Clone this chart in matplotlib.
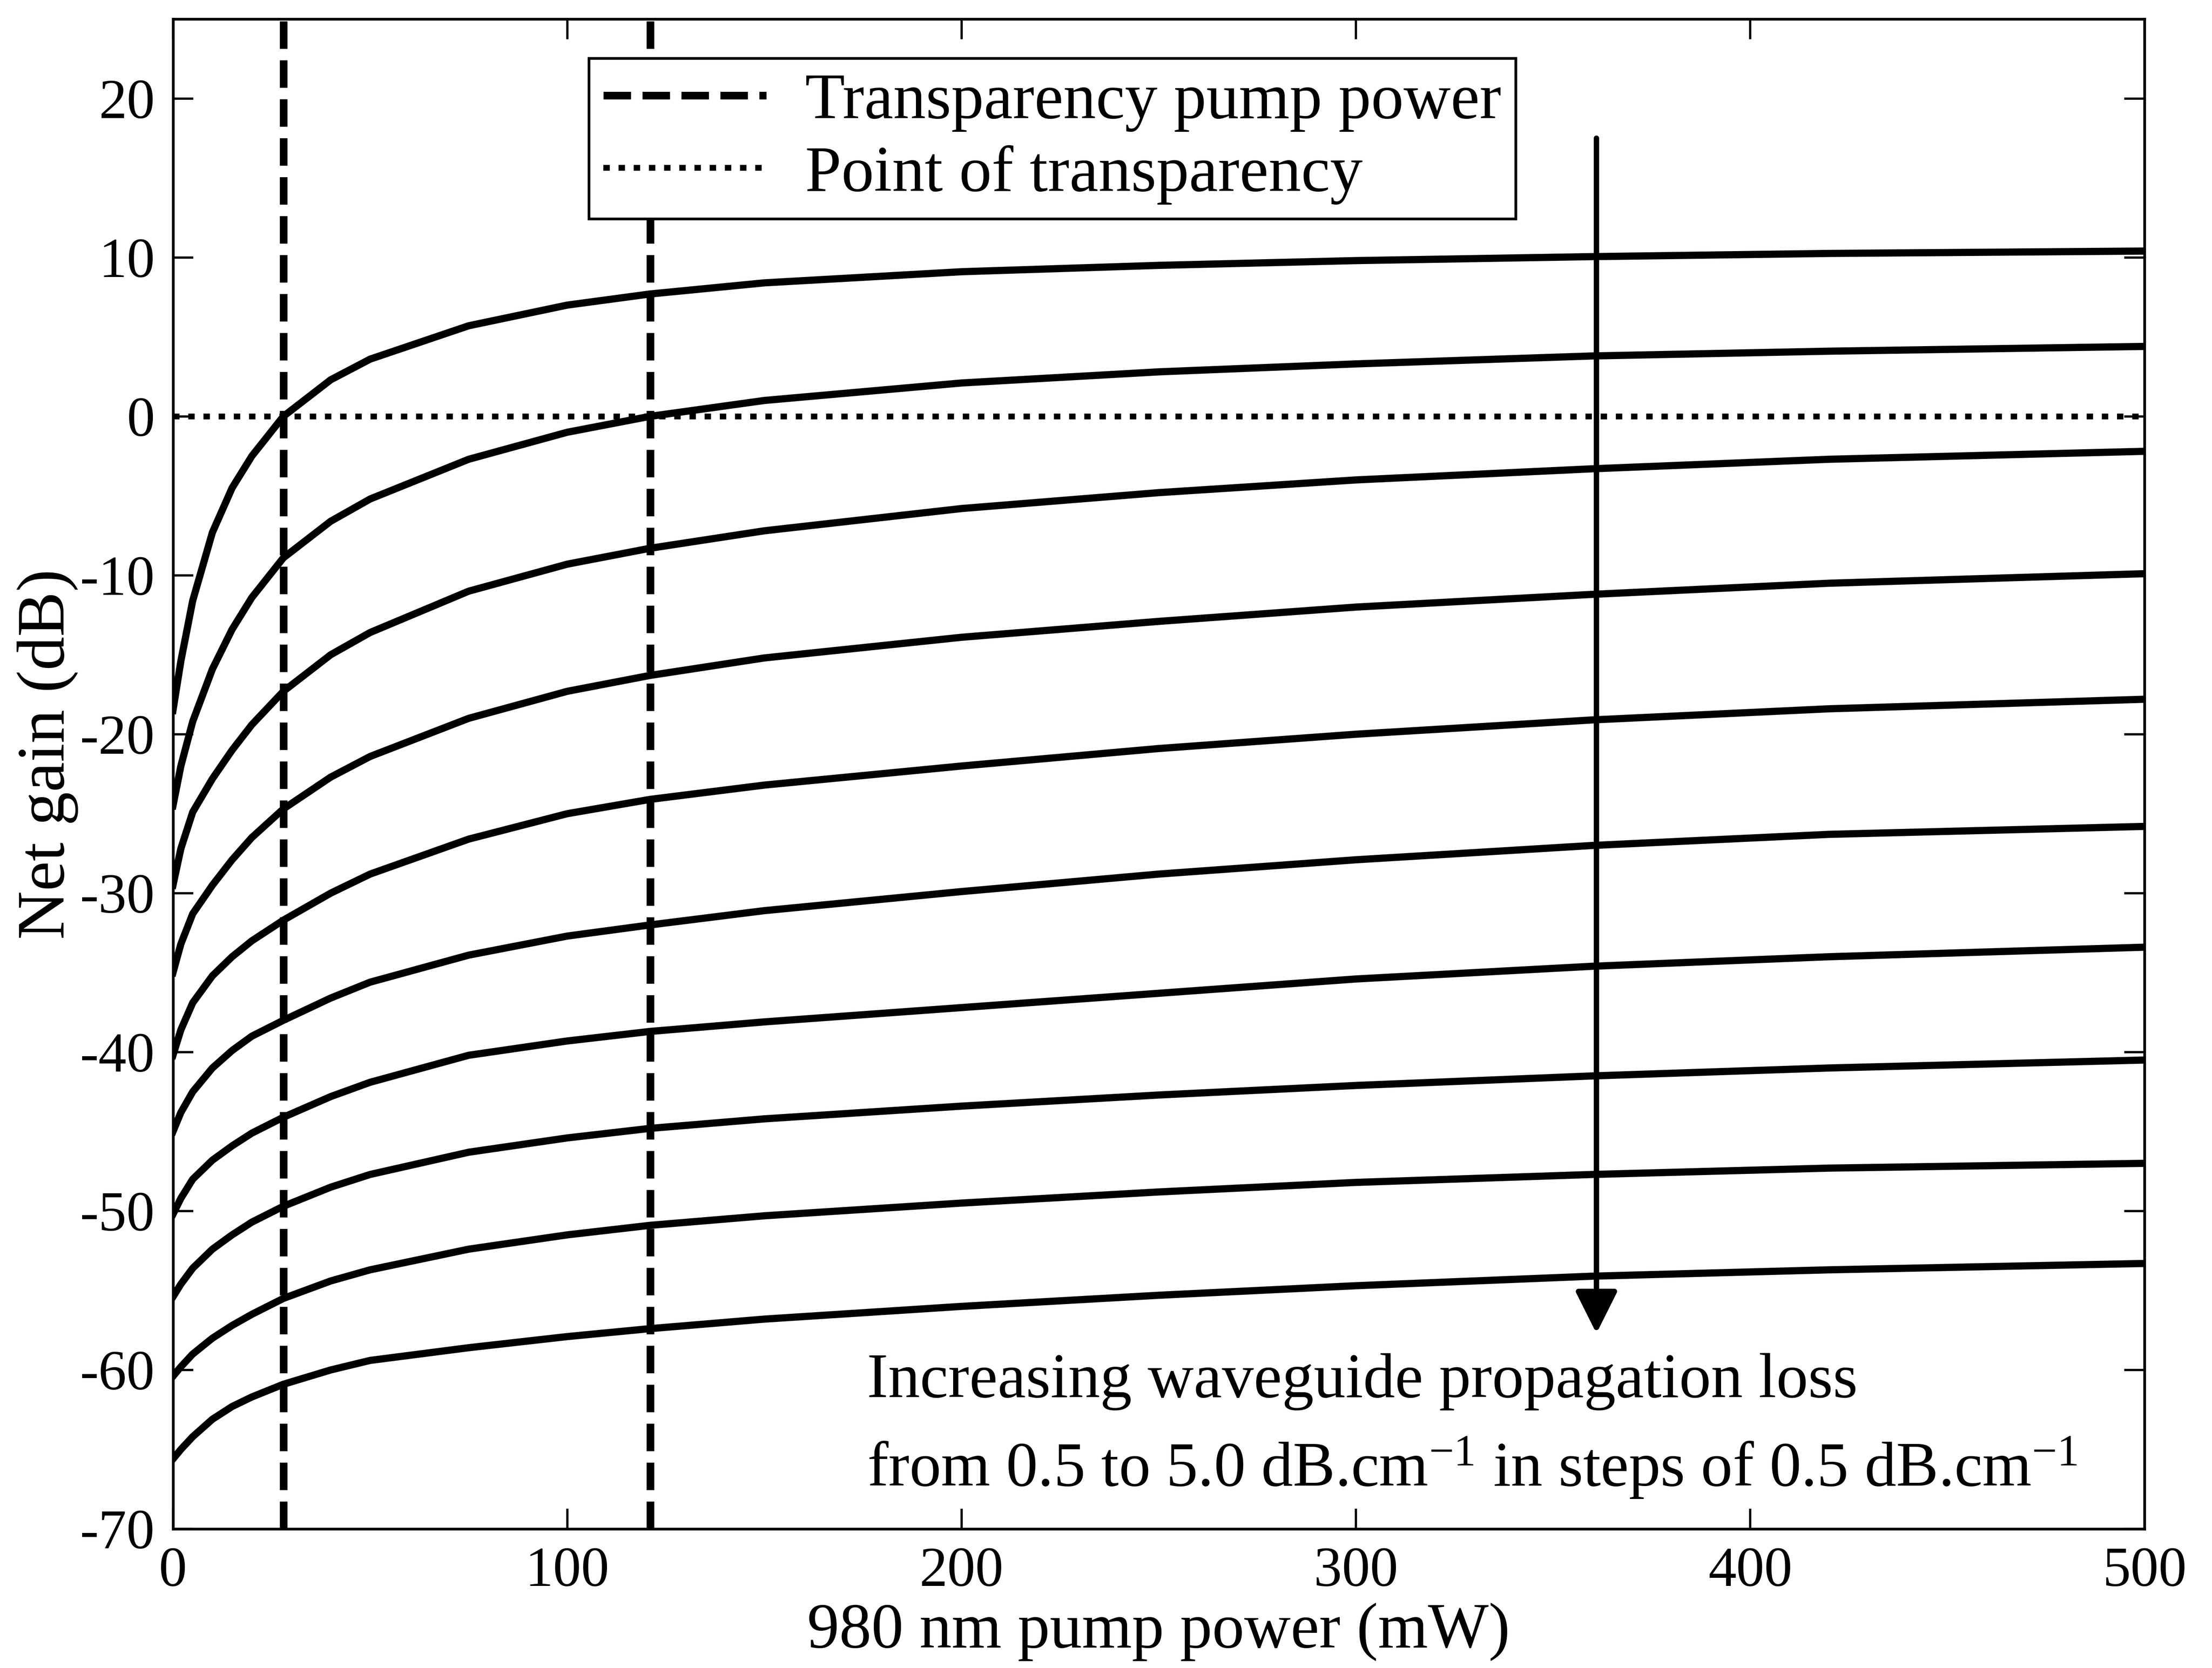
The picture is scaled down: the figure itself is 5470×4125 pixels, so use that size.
import matplotlib

matplotlib.use("Agg")
import matplotlib.pyplot as plt
import numpy as np

plt.rcParams["font.family"] = ["Liberation Serif", "DejaVu Serif"]
plt.rcParams["mathtext.fontset"] = "custom"
plt.rcParams["mathtext.rm"] = "Liberation Serif"
plt.rcParams["mathtext.it"] = "Liberation Serif:italic"
plt.rcParams["axes.unicode_minus"] = False

# Pump power grid (mW) the gain curves were read on
pump_power = [0, 2, 5, 10, 15, 20, 28, 40, 50, 75, 100, 121, 150, 200, 250, 300, 360, 420, 500]

# Net gain (dB), one curve per propagation loss 0.5 ... 5.0 dB/cm
gain_05 = [-18.5, -15.4, -11.6, -7.3, -4.5, -2.5, 0.0, 2.3, 3.6, 5.7, 7.0, 7.7, 8.4, 9.1, 9.5, 9.8, 10.05, 10.25, 10.4]
gain_10 = [-24.5, -22.0, -19.2, -15.9, -13.4, -11.4, -8.9, -6.6, -5.2, -2.7, -1.0, 0.0, 1.0, 2.1, 2.8, 3.3, 3.8, 4.1, 4.4]
gain_15 = [-29.5, -27.2, -24.9, -22.8, -21.0, -19.4, -17.3, -15.0, -13.6, -11.0, -9.3, -8.3, -7.2, -5.8, -4.8, -4.0, -3.3, -2.7, -2.2]
gain_20 = [-35.0, -33.2, -31.3, -29.5, -27.9, -26.5, -24.7, -22.7, -21.4, -19.0, -17.3, -16.3, -15.2, -13.9, -12.9, -12.0, -11.2, -10.5, -9.9]
gain_25 = [-40.2, -38.6, -36.9, -35.2, -34.0, -33.0, -31.7, -30.0, -28.8, -26.6, -25.0, -24.1, -23.2, -22.0, -20.9, -20.0, -19.1, -18.4, -17.8]
gain_30 = [-45.0, -43.8, -42.5, -41.0, -39.9, -39.0, -38.0, -36.6, -35.6, -33.9, -32.7, -32.0, -31.1, -29.9, -28.8, -27.9, -27.0, -26.3, -25.8]
gain_35 = [-50.2, -49.2, -48.0, -46.8, -45.9, -45.1, -44.1, -42.8, -41.9, -40.2, -39.3, -38.7, -38.1, -37.2, -36.3, -35.4, -34.6, -34.0, -33.4]
gain_40 = [-55.4, -54.6, -53.6, -52.4, -51.5, -50.7, -49.7, -48.5, -47.7, -46.3, -45.4, -44.8, -44.2, -43.4, -42.7, -42.1, -41.5, -41.0, -40.5]
gain_45 = [-60.4, -59.8, -59.0, -58.0, -57.2, -56.5, -55.5, -54.4, -53.7, -52.4, -51.5, -50.9, -50.3, -49.5, -48.8, -48.2, -47.7, -47.3, -47.0]
gain_50 = [-65.6, -65.0, -64.2, -63.1, -62.3, -61.7, -60.9, -60.0, -59.4, -58.6, -57.9, -57.4, -56.8, -56.0, -55.3, -54.7, -54.1, -53.7, -53.3]

curves = [gain_05, gain_10, gain_15, gain_20, gain_25,
          gain_30, gain_35, gain_40, gain_45, gain_50]

# Pump powers where the first two curves reach transparency (mW)
transparency_power = [28, 121]

fig = plt.figure(figsize=(13.675, 10.3125), dpi=400)
ax = fig.add_axes([0.0782, 0.0834, 0.8913, 0.9052])

for g in curves:
    ax.plot(pump_power, g, color="k", lw=3.2, solid_joinstyle="round")

for i, p in enumerate(transparency_power):
    ax.axvline(p, color="k", lw=3.4, dashes=(3.6, 1.5),
               label="Transparency pump power" if i == 0 else None)
ax.axhline(0, color="k", lw=2.6, dashes=(1.1, 1.5), label="Point of transparency")

# Arrow pointing towards increasing loss
ax.annotate("", xy=(361, -57.7), xytext=(361, 17.5),
            arrowprops=dict(arrowstyle="-|>", color="k", lw=2.4,
                            mutation_scale=40, shrinkA=0, shrinkB=0))
ax.text(176, -61.7, "Increasing waveguide propagation loss", fontsize=28.3,
        va="baseline", ha="left")
ax.text(176, -67.3, "from 0.5 to 5.0 dB.cm$^{-1}$ in steps of 0.5 dB.cm$^{-1}$",
        fontsize=28.2, va="baseline", ha="left")

ax.set_xlim(0, 500)
ax.set_ylim(-70, 25)
ax.set_xticks(np.arange(0, 501, 100))
ax.set_yticks(np.arange(-70, 21, 10))
ax.tick_params(direction="in", top=True, right=True, length=9, width=1.0,
               labelsize=25, pad=8)
for s in ax.spines.values():
    s.set_linewidth(1.2)

ax.set_xlabel("980 nm pump power (mW)", fontsize=28.6, labelpad=2)
ax.set_ylabel("Net gain (dB)", fontsize=30)
ax.yaxis.set_label_coords(-0.048, 0.513)

leg = ax.legend(loc="upper left", bbox_to_anchor=(0.211, 0.974), borderaxespad=0,
                fontsize=29, handlelength=2.5, handletextpad=0.6,
                labelspacing=0.2, borderpad=0.22, fancybox=False,
                framealpha=1, edgecolor="k")
leg.get_frame().set_linewidth(1.2)

fig.savefig("out.png", dpi=400)
